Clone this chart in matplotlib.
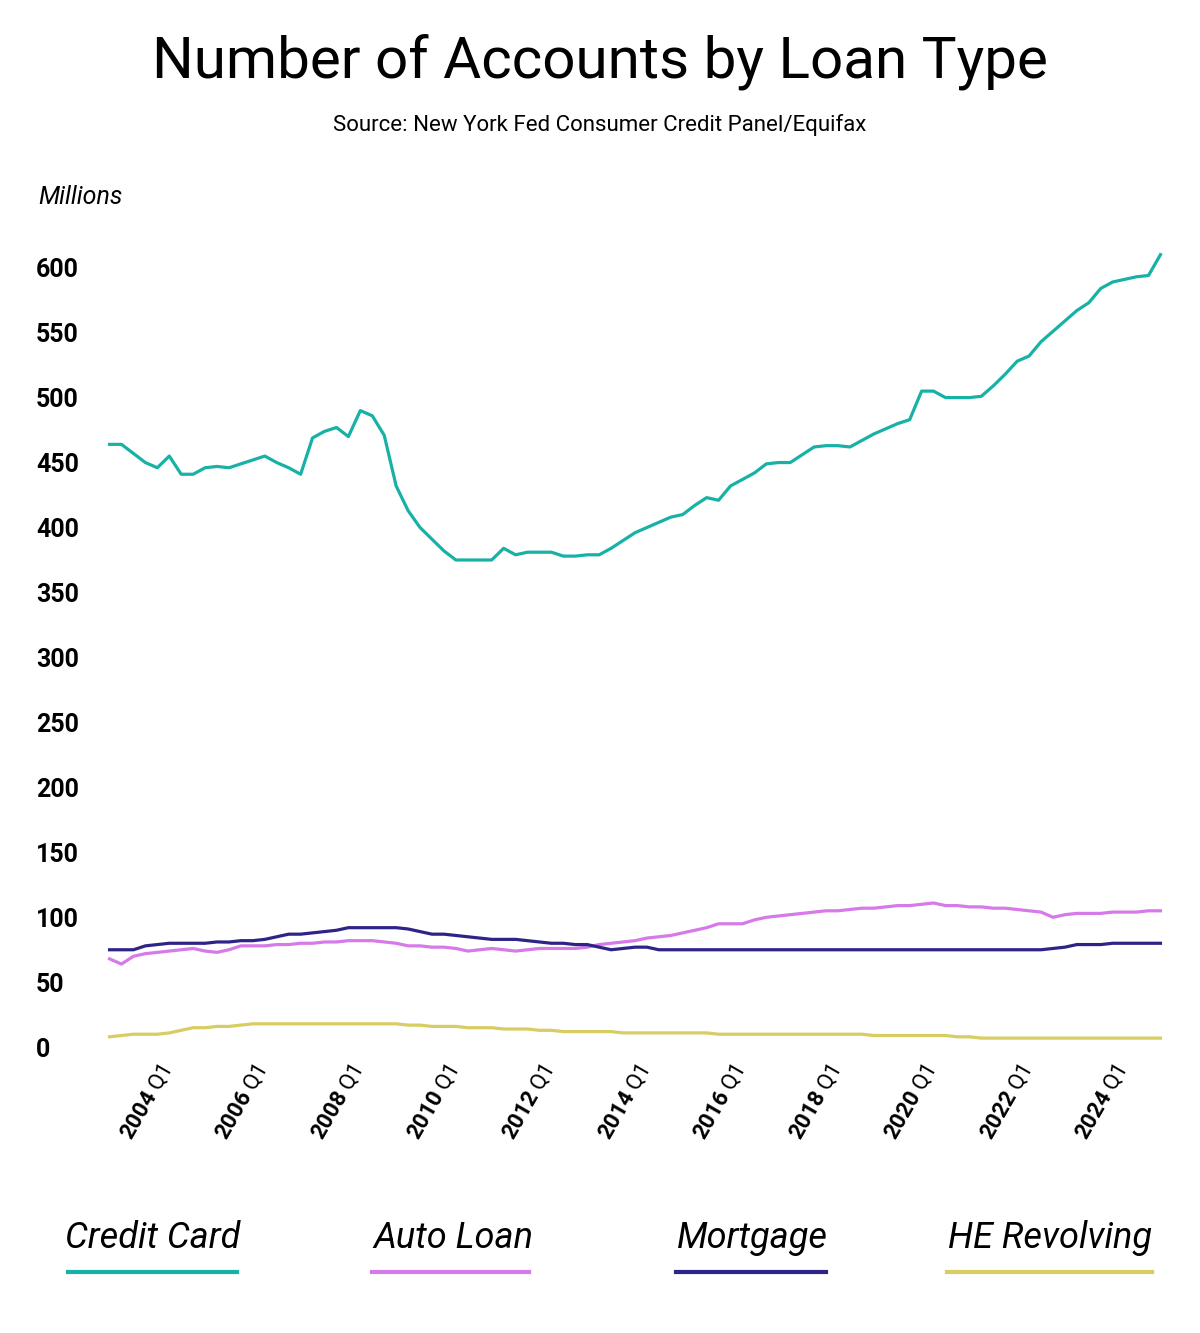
import matplotlib
matplotlib.use("Agg")
import matplotlib.pyplot as plt
from matplotlib.lines import Line2D

plt.rcParams["font.family"] = "Roboto"
plt.rcParams["mathtext.fontset"] = "custom"
plt.rcParams["mathtext.rm"] = "Roboto"
plt.rcParams["mathtext.bf"] = "Roboto:bold"

quarters = [f"{y} Q{q}" for y in range(2003, 2026) for q in range(1, 5)][:89]

credit_card = [464, 464, 457, 450, 446, 455, 441, 441, 446, 447, 446, 449, 452, 455, 450, 446,
               441, 469, 474, 477, 470, 490, 486, 471, 432, 413, 400, 391, 382, 375, 375, 375,
               375, 384, 379, 381, 381, 381, 378, 378, 379, 379, 384, 390, 396, 400, 404, 408,
               410, 417, 423, 421, 432, 437, 442, 449, 450, 450, 456, 462, 463, 463, 462, 467,
               472, 476, 480, 483, 505, 505, 500, 500, 500, 501, 509, 518, 528, 532, 543, 551,
               559, 567, 573, 584, 589, 591, 593, 594, 610]
auto_loan = [68, 64, 70, 72, 73, 74, 75, 76, 74, 73, 75, 78, 78, 78, 79, 79,
             80, 80, 81, 81, 82, 82, 82, 81, 80, 78, 78, 77, 77, 76, 74, 75,
             76, 75, 74, 75, 76, 76, 76, 76, 77, 79, 80, 81, 82, 84, 85, 86,
             88, 90, 92, 95, 95, 95, 98, 100, 101, 102, 103, 104, 105, 105, 106, 107,
             107, 108, 109, 109, 110, 111, 109, 109, 108, 108, 107, 107, 106, 105, 104, 100,
             102, 103, 103, 103, 104, 104, 104, 105, 105]
mortgage = [75, 75, 75, 78, 79, 80, 80, 80, 80, 81, 81, 82, 82, 83, 85, 87,
            87, 88, 89, 90, 92, 92, 92, 92, 92, 91, 89, 87, 87, 86, 85, 84,
            83, 83, 83, 82, 81, 80, 80, 79, 79, 77, 75, 76, 77, 77, 75, 75,
            75, 75, 75, 75, 75, 75, 75, 75, 75, 75, 75, 75, 75, 75, 75, 75,
            75, 75, 75, 75, 75, 75, 75, 75, 75, 75, 75, 75, 75, 75, 75, 76,
            77, 79, 79, 79, 80, 80, 80, 80, 80]
he_revolving = [8, 9, 10, 10, 10, 11, 13, 15, 15, 16, 16, 17, 18, 18, 18, 18,
                18, 18, 18, 18, 18, 18, 18, 18, 18, 17, 17, 16, 16, 16, 15, 15,
                15, 14, 14, 14, 13, 13, 12, 12, 12, 12, 12, 11, 11, 11, 11, 11,
                11, 11, 11, 10, 10, 10, 10, 10, 10, 10, 10, 10, 10, 10, 10, 10,
                9, 9, 9, 9, 9, 9, 9, 8, 8, 7, 7, 7, 7, 7, 7, 7,
                7, 7, 7, 7, 7, 7, 7, 7, 7]

series_names = ["Credit Card", "Auto Loan", "Mortgage", "HE Revolving"]
colors = ["#17b2a5", "#d57ae8", "#2e2488", "#d8cd62"]
yticks = [0, 50, 100, 150, 200, 250, 300, 350, 400, 450, 500, 550, 600]

fig = plt.figure(figsize=(12, 13.33), dpi=100)
ax = fig.add_axes([100/1200, (1333-1055)/1333, 1070/1200, 825/1333])
x = list(range(len(quarters)))
data = [credit_card, auto_loan, mortgage, he_revolving]
for vals, c in zip(data, colors):
    ax.plot(x, vals, color=c, lw=2.3)

ax.set_xlim(-0.8, 88.8)
ax.set_ylim(-6, 629)
for s in ax.spines.values():
    s.set_visible(False)
ax.set_yticks(yticks)
ax.set_yticklabels([str(t) for t in yticks], fontsize=18, fontweight="bold")
for lab in ax.get_yticklabels():
    lab.set_horizontalalignment("left")
ax.tick_params(axis="y", length=0, pad=46)

tick_idx = [i for i, q in enumerate(quarters) if q.endswith("Q1") and int(q[:4]) % 2 == 0]
ax.set_xticks(tick_idx)
ax.set_xticklabels([r"$\mathbf{%s}$ Q1" % quarters[i][:4] for i in tick_idx],
                   rotation=60, ha="right", va="top", rotation_mode="anchor", fontsize=16)
ax.tick_params(axis="x", length=0, pad=5)

fig.text(0.5, 1 - 62/1333, "Number of Accounts by Loan Type", ha="center", va="center", fontsize=42)
fig.text(0.5, 1 - 125/1333, "Source: New York Fed Consumer Credit Panel/Equifax", ha="center", va="center", fontsize=16)
fig.text(38/1200, 1 - 197/1333, "Millions", ha="left", va="center", fontsize=18, style="italic")

leg_centers = [153, 453, 752, 1050]
leg_lines = [(68, 237), (372, 529), (676, 826), (947, 1152)]
for name, c, cx, (x0, x1) in zip(series_names, colors, leg_centers, leg_lines):
    fig.text(cx/1200, 1 - 1238/1333, name, ha="center", va="center", fontsize=26, style="italic")
    fig.add_artist(Line2D([x0/1200, x1/1200], [1 - 1272/1333] * 2, color=c, lw=3,
                          transform=fig.transFigure))

fig.savefig("out.png", dpi=100, facecolor="white")
